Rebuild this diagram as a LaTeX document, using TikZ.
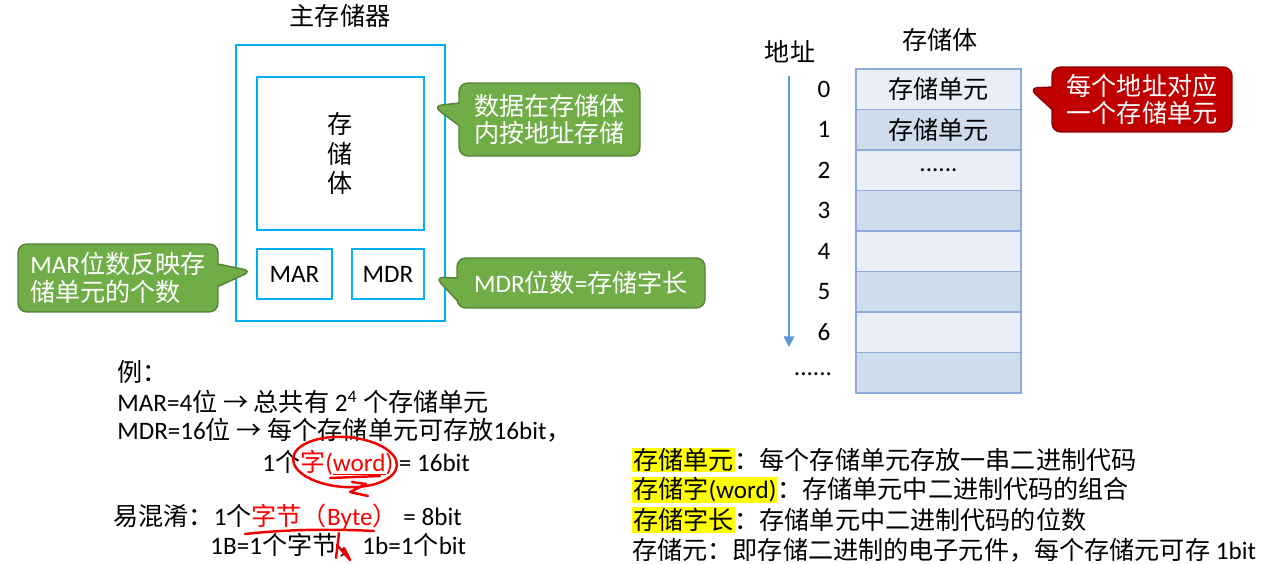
\documentclass[tikz,border=0pt]{standalone}
\usepackage{fontspec}
\setmainfont{Carlito}
\newfontfamily\cjkfont{Noto Sans CJK SC}
\newfontfamily\latfont{Carlito}
\usetikzlibrary{shapes.callouts,arrows.meta}

% CJK characters switch to the CJK family
\newXeTeXintercharclass\cjkclass
\newcommand{\cjkrange}[2]{%
	\count255=#1
	\loop \XeTeXcharclass\count255=\cjkclass \ifnum\count255<#2 \advance\count255 by 1 \repeat}
\cjkrange{"4E00}{"9FFF}
\cjkrange{"3000}{"303F}
\cjkrange{"FF00}{"FFEF}
\cjkrange{"2190}{"21FF}
\XeTeXinterchartoks 0 \cjkclass = {\cjkfont}
\XeTeXinterchartoks 4095 \cjkclass = {\cjkfont}
\XeTeXinterchartoks \cjkclass 0 = {\latfont}
\XeTeXinterchartoks \cjkclass 4095 = {\latfont}
\XeTeXinterchartokenstate=1

\definecolor{memcyan}{RGB}{0,176,240}
\definecolor{callgreen}{RGB}{112,173,71}
\definecolor{callgreenline}{RGB}{84,130,53}
\definecolor{callred}{RGB}{192,0,0}
\definecolor{callredline}{RGB}{140,0,0}
\definecolor{celllight}{RGB}{233,238,247}
\definecolor{celldark}{RGB}{207,220,236}
\definecolor{cellline}{RGB}{143,170,220}
\definecolor{addrblue}{RGB}{91,155,213}
\definecolor{hlyellow}{RGB}{255,255,0}
\definecolor{inkred}{RGB}{240,0,0}

\newcommand{\mainsize}{\fontsize{14.3pt}{17pt}\selectfont}
\newcommand{\hlword}[1]{{\setlength{\fboxsep}{0.5pt}\colorbox{hlyellow}{#1}}}
\newcommand{\celldots}{......}

\tikzset{
	memline/.style={draw=memcyan, line width=1.6pt},
	greencall/.style={rectangle callout, fill=callgreen, draw=callgreenline, line width=0.8pt,
		rounded corners=5pt, text=white, align=left, callout pointer width=0.45cm,
		font=\fontsize{14.3pt}{15.5pt}\selectfont},
	redcall/.style={greencall, fill=callred, draw=callredline},
	cellbox/.style={draw=cellline, line width=0.8pt, minimum width=3.3cm, minimum height=0.81cm, inner sep=0pt},
	ink/.style={draw=inkred, line width=1.4pt, line cap=round, line join=round},
}

\begin{document}
\begin{tikzpicture}[x=0.02cm, y=-0.02cm, every node/.style={font=\mainsize}]
	\useasboundingbox (0,0) rectangle (1265,564);

	% main memory
	\node (mainlabel) at (340,16) {主存储器};
	\node [memline, minimum width=4.18cm, minimum height=5.52cm] (mainmem) at (340.5,183) {};
	\node [memline, minimum width=3.34cm, minimum height=3.06cm, align=center] (bank) at (340.5,153.5) {存\\储\\体};
	\node [memline, minimum width=1.5cm, minimum height=1cm] (mar) at (294.5,274) {MAR};
	\node [memline, minimum width=1.44cm, minimum height=1cm] (mdr) at (388,274) {MDR};

	\coordinate (tipbank) at (433,106);
	\coordinate (tipmar) at (252,271);
	\coordinate (tipmdr) at (435,277);
	\node [greencall, minimum width=3.62cm, minimum height=1.46cm, callout absolute pointer={(tipbank)}] (notebank) at (549.5,119.5) {数据在存储体\\内按地址存储};
	\node [greencall, minimum width=4cm, minimum height=1.36cm, callout absolute pointer={(tipmar)}] (notemar) at (118,278) {MAR位数反映存\\储单元的个数};
	\node [greencall, minimum width=4.96cm, minimum height=1cm, callout absolute pointer={(tipmdr)}] (notemdr) at (581,283) {MDR位数=存储字长};

	% storage bank with addresses
	\node (addrlabel) at (790,52) {地址};
	\node (banklabel) at (940,40) {存储体};
	\foreach \i/\txt/\shade in {0/存储单元/celllight, 1/存储单元/celldark, 2/\celldots/celllight, 3//celldark,
		4//celllight, 5//celldark, 6//celllight, 7//celldark}
		\node [cellbox, fill=\shade] (cell\i) at (938.5,{89.25+40.5*\i}) {\txt};
	\foreach \i in {0,...,6}
		\node (addr\i) at (824,{89.25+40.5*\i}) {\i};
	\node (addrmore) at (813,374) {\celldots};
	\coordinate (arrtop) at (789,76);
	\coordinate (arrbot) at (789,347);
	\draw [addrblue, line width=0.8pt, -{Triangle[width=6pt,length=6pt]}] (arrtop) -- (arrbot);

	\coordinate (tipcell) at (1029,88);
	\node [redcall, minimum width=3.6cm, minimum height=1.3cm, callout absolute pointer={(tipcell)}] (notecell) at (1142,99.5) {每个地址对应\\一个存储单元};

	% example
	\node [anchor=west, inner sep=0] (ex0) at (117,372) {例：};
	\node [anchor=west, inner sep=0] (ex1) at (117,402) {MAR=4位 → 总共有 2\textsuperscript{4} 个存储单元};
	\node [anchor=west, inner sep=0] (ex2) at (117,430) {MDR=16位 → 每个存储单元可存放16bit，};
	\node [anchor=west, inner sep=0] (ex3) at (262,463) {1个\textcolor{red}{字(\underline{word})} = 16bit};
	\node [anchor=west, inner sep=0] (ex4) at (113,517) {易混淆：1个\textcolor{red}{字节（Byte）} = 8bit};
	\node [anchor=west, inner sep=0] (ex5) at (210,545) {1B=1个字节，1b=1个bit};

	% hand marks
	\draw [ink, rotate around={-4:(345,462)}] (345,462) ellipse [x radius=52, y radius=25];
	\draw [ink] (330,478) -- (380,476);
	\draw [ink] (352,482) -- (366,484) -- (350,492) -- (368,496);
	\draw [ink] (245,534) .. controls (290,529) and (335,529) .. (374,531);
	\draw [ink] (339,533) -- (336,558);
	\draw [ink] (337,545) -- (350,560) -- (344,548);

	% terms
	\node [anchor=west, inner sep=0] (term0) at (632,460) {\hlword{存储单元}：每个存储单元存放一串二进制代码};
	\node [anchor=west, inner sep=0] (term1) at (632,490) {\hlword{存储字(word)}：存储单元中二进制代码的组合};
	\node [anchor=west, inner sep=0] (term2) at (632,520) {\hlword{存储字长}：存储单元中二进制代码的位数};
	\node [anchor=west, inner sep=0] (term3) at (632,550) {存储元：即存储二进制的电子元件，每个存储元可存 1bit};
\end{tikzpicture}
\end{document}
